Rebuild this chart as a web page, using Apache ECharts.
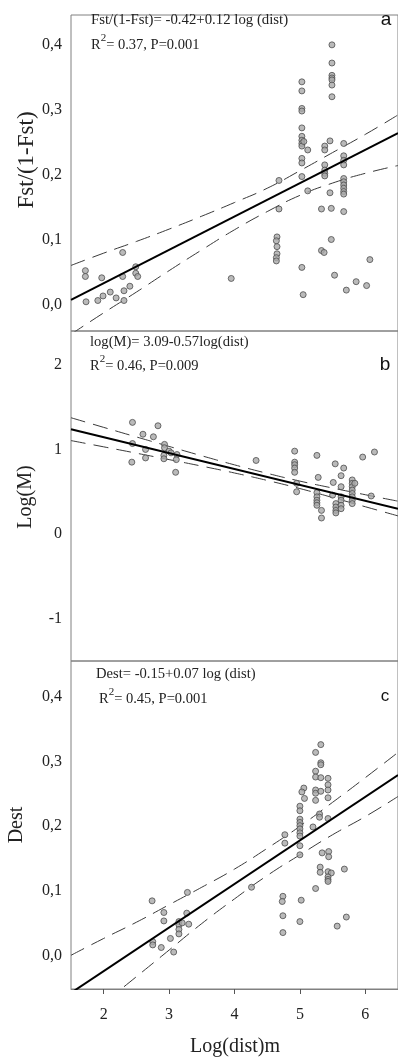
<!DOCTYPE html>
<html>
<head>
<meta charset="utf-8">
<script src="https://cdn.jsdelivr.net/npm/echarts@6/dist/echarts.min.js"></script>
<style>
html, body { margin: 0; padding: 0; background: #fff; }
#main { width: 398px; height: 1059px; }
</style>
</head>
<body>
<div id="main"></div>
<script>
// x ticks shared by all panels, labels only on the bottom one
var xTicks = [2, 3, 4, 5, 6];
var fracTicks = [0, 0.1, 0.2, 0.3, 0.4];
var logMTicks = [-1, 0, 1, 2];

// panel a : Fst/(1-Fst)
var aPoints = [
    [1.72, 0.052], [1.72, 0.043], [1.73, 0.004], [1.91, 0.006], [1.97, 0.041], [1.99, 0.013],
    [2.10, 0.019], [2.19, 0.010], [2.29, 0.080], [2.29, 0.043], [2.31, 0.021], [2.31, 0.006],
    [2.40, 0.028], [2.49, 0.058], [2.49, 0.048], [2.52, 0.043],
    [3.95, 0.040],
    [4.68, 0.191], [4.68, 0.147], [4.65, 0.104], [4.64, 0.098], [4.65, 0.089], [4.65, 0.078], [4.64, 0.072], [4.64, 0.067],
    [5.03, 0.343], [5.03, 0.329], [5.03, 0.302], [5.03, 0.298], [5.03, 0.272], [5.03, 0.259], [5.03, 0.253],
    [5.03, 0.248], [5.03, 0.244], [5.06, 0.251], [5.12, 0.238], [5.03, 0.225], [5.03, 0.218], [5.03, 0.197],
    [5.12, 0.175], [5.03, 0.057], [5.05, 0.015],
    [5.38, 0.244], [5.38, 0.238], [5.38, 0.215], [5.38, 0.207], [5.38, 0.202], [5.38, 0.198],
    [5.49, 0.400], [5.49, 0.372], [5.49, 0.353], [5.49, 0.349], [5.49, 0.346], [5.49, 0.338], [5.49, 0.320],
    [5.46, 0.252], [5.46, 0.172], [5.48, 0.148], [5.48, 0.100],
    [5.67, 0.248], [5.67, 0.229], [5.67, 0.222], [5.67, 0.215], [5.67, 0.194], [5.67, 0.189], [5.67, 0.184],
    [5.67, 0.179], [5.67, 0.174], [5.67, 0.170], [5.67, 0.143],
    [5.33, 0.147], [5.33, 0.083], [5.37, 0.080], [6.07, 0.069], [5.53, 0.045], [5.86, 0.035], [6.02, 0.029], [5.71, 0.022]
];
var aFit = [[1.5, 0.007], [6.5, 0.264]];
var bandX = [1.5, 2, 2.5, 3, 3.5, 4, 4.5, 5, 5.5, 6, 6.5];
var aUpper = [0.060, 0.079, 0.097, 0.116, 0.136, 0.157, 0.179, 0.206, 0.234, 0.262, 0.292];
var aLower = [-0.046, -0.013, 0.019, 0.052, 0.084, 0.115, 0.143, 0.168, 0.187, 0.202, 0.214];

// panel b : Log(M)
var bPoints = [
    [2.44, 1.32], [2.83, 1.28], [2.60, 1.18], [2.76, 1.15], [2.44, 1.07], [2.93, 1.06], [2.93, 1.02],
    [2.64, 1.00], [3.00, 0.98], [3.03, 0.96], [2.92, 0.93], [3.12, 0.94], [2.64, 0.90], [2.92, 0.89],
    [3.11, 0.88], [2.43, 0.85], [3.10, 0.73],
    [4.33, 0.87],
    [4.92, 0.98], [4.92, 0.85], [4.92, 0.82], [4.92, 0.78], [4.92, 0.73], [4.95, 0.60], [4.95, 0.50],
    [5.26, 0.93], [5.28, 0.67], [5.26, 0.49], [5.26, 0.44], [5.26, 0.40], [5.26, 0.37], [5.26, 0.34],
    [5.33, 0.28], [5.33, 0.19],
    [5.54, 0.83], [5.67, 0.78], [5.63, 0.69], [5.51, 0.61], [5.63, 0.56], [5.50, 0.46],
    [5.55, 0.36], [5.55, 0.32], [5.55, 0.28], [5.55, 0.25],
    [5.63, 0.44], [5.63, 0.40], [5.63, 0.34], [5.63, 0.30],
    [5.80, 0.64], [5.80, 0.60], [5.80, 0.56], [5.80, 0.52], [5.80, 0.48], [5.80, 0.44], [5.80, 0.40],
    [5.80, 0.36], [5.84, 0.60],
    [5.96, 0.91], [6.14, 0.97], [6.09, 0.45]
];
var bFit = [[1.5, 1.24], [6.5, 0.30]];
var bUpper = [1.375, 1.261, 1.148, 1.036, 0.925, 0.818, 0.718, 0.626, 0.544, 0.465, 0.389];
var bLower = [1.105, 1.031, 0.956, 0.880, 0.803, 0.722, 0.634, 0.538, 0.432, 0.323, 0.215];

// panel c : Dest
var cPoints = [
    [2.74, 0.085], [2.92, 0.067], [2.92, 0.054], [3.28, 0.098], [3.27, 0.066], [2.75, 0.022], [2.75, 0.017],
    [2.88, 0.013], [3.02, 0.027], [3.07, 0.006], [3.15, 0.053], [3.15, 0.048], [3.15, 0.041], [3.15, 0.034],
    [3.20, 0.051], [3.30, 0.049],
    [4.26, 0.106],
    [5.32, 0.326], [5.24, 0.314], [5.32, 0.298], [5.32, 0.295], [5.24, 0.285], [5.24, 0.276], [5.32, 0.275],
    [5.43, 0.274], [5.43, 0.264], [5.43, 0.256], [5.43, 0.244], [5.24, 0.256], [5.24, 0.251], [5.32, 0.254],
    [5.24, 0.240], [5.06, 0.259], [5.03, 0.253], [5.07, 0.243], [5.00, 0.231], [5.00, 0.224], [5.00, 0.211],
    [5.00, 0.206], [5.00, 0.201], [5.00, 0.196], [5.00, 0.190], [5.00, 0.185], [5.30, 0.219], [5.30, 0.214],
    [5.43, 0.212], [5.20, 0.199], [4.77, 0.187], [4.77, 0.174], [5.00, 0.170], [5.00, 0.156], [5.34, 0.159],
    [5.44, 0.161], [5.44, 0.153], [5.31, 0.137], [5.31, 0.129], [5.43, 0.130], [5.48, 0.128], [5.43, 0.122],
    [5.43, 0.118], [5.43, 0.115], [5.68, 0.134], [5.24, 0.104], [4.74, 0.092], [4.73, 0.084], [5.02, 0.086],
    [4.74, 0.062], [5.00, 0.053], [5.71, 0.060], [5.57, 0.046], [4.74, 0.036]
];
var cFit = [[1.5, -0.057], [6.5, 0.279]];
var cUpper = [0.001, 0.027, 0.052, 0.079, 0.106, 0.134, 0.166, 0.200, 0.237, 0.275, 0.314];
var cLower = [-0.115, -0.073, -0.032, 0.009, 0.050, 0.088, 0.124, 0.156, 0.187, 0.215, 0.246];

var serif = '"Liberation Serif", "DejaVu Serif", serif';
var frameColor = '#808080';

function pairs(xs, ys) {
    return xs.map(function (x, i) { return [x, ys[i]]; });
}

function commaLabel(v) {
    return v.toFixed(1).replace('.', ',');
}

var myChart = echarts.init(document.getElementById('main'));

var grids = [
    {left: 71, top: 15, width: 329, height: 316},
    {left: 71, top: 331, width: 329, height: 330},
    {left: 71, top: 661, width: 329, height: 328}
];
grids.forEach(function (g) {
    g.show = true;
    g.borderColor = frameColor;
    g.borderWidth = 1;
    g.backgroundColor = 'transparent';
});

function xAxisFor(i, showLabels) {
    return {
        type: 'value', gridIndex: i, min: 1.5, max: 6.5,
        splitLine: {show: false},
        axisLine: {show: showLabels, onZero: false, lineStyle: {color: frameColor}},
        axisTick: {show: showLabels, length: 5, lineStyle: {color: '#555'}, customValues: xTicks},
        axisLabel: {
            show: showLabels, margin: 18, customValues: xTicks,
            fontFamily: serif, fontSize: 16, color: '#222'
        }
    };
}

function yAxisFor(i, min, max, ticks, fmt) {
    return {
        type: 'value', gridIndex: i, min: min, max: max,
        splitLine: {show: false},
        axisLine: {show: false},
        axisTick: {show: false},
        axisLabel: {
            customValues: ticks, formatter: fmt, margin: 9,
            fontFamily: serif, fontSize: 16, color: '#222'
        }
    };
}

function scatter(i, data) {
    return {
        type: 'scatter', xAxisIndex: i, yAxisIndex: i, data: data,
        symbol: 'circle', symbolSize: 6,
        itemStyle: {color: '#a9a9a9', borderColor: '#4d4d4d', borderWidth: 1},
        z: 3
    };
}

function fitLine(i, data) {
    return {
        type: 'line', xAxisIndex: i, yAxisIndex: i, data: data,
        symbol: 'none', clip: true,
        lineStyle: {color: '#000', width: 2},
        z: 4
    };
}

function bandLine(i, ys) {
    return {
        type: 'line', xAxisIndex: i, yAxisIndex: i, data: pairs(bandX, ys),
        symbol: 'none', smooth: true, clip: true,
        lineStyle: {color: '#3a3a3a', width: 1, type: [15, 8]},
        z: 2
    };
}

function annot(x, y, text, size) {
    return {
        type: 'text', x: x, y: y,
        style: {text: text, font: size + 'px ' + serif, fill: '#222', textVerticalAlign: 'middle'}
    };
}

function r2(x, y, rest) {
    return {
        type: 'text', x: x, y: y,
        style: {
            text: '{r|R}{s|2}{t|' + rest + '}',
            textVerticalAlign: 'middle',
            rich: {
                r: {fontFamily: serif, fontSize: 14.5, fill: '#222', lineHeight: 20, verticalAlign: 'bottom'},
                s: {fontFamily: serif, fontSize: 11, fill: '#222', lineHeight: 20, verticalAlign: 'top'},
                t: {fontFamily: serif, fontSize: 14.5, fill: '#222', lineHeight: 20, verticalAlign: 'bottom'}
            }
        }
    };
}

function letter(x, y, text, size) {
    return {
        type: 'text', x: x, y: y,
        style: {
            text: text, font: size + 'px "Liberation Sans", Arial, sans-serif', fill: '#111',
            textAlign: 'center', textVerticalAlign: 'middle'
        }
    };
}

function yTitle(x, y, text, size) {
    return {
        type: 'text', x: x, y: y, rotation: Math.PI / 2,
        style: {
            text: text, font: size + 'px ' + serif, fill: '#222',
            textAlign: 'center', textVerticalAlign: 'middle'
        }
    };
}

var option = {
    animation: false,
    backgroundColor: '#fff',
    grid: grids,
    xAxis: [xAxisFor(0, false), xAxisFor(1, false), xAxisFor(2, true)],
    yAxis: [
        yAxisFor(0, -0.041, 0.446, fracTicks, commaLabel),
        yAxisFor(1, -1.5, 2.4, logMTicks, function (v) { return String(v); }),
        yAxisFor(2, -0.051, 0.455, fracTicks, commaLabel)
    ],
    series: [
        bandLine(0, aUpper), bandLine(0, aLower), fitLine(0, aFit), scatter(0, aPoints),
        bandLine(1, bUpper), bandLine(1, bLower), fitLine(1, bFit), scatter(1, bPoints),
        bandLine(2, cUpper), bandLine(2, cLower), fitLine(2, cFit), scatter(2, cPoints)
    ],
    graphic: [
        annot(91, 20, 'Fst/(1-Fst)= -0.42+0.12 log (dist)', 14.8),
        r2(91, 43, '= 0.37, P=0.001'),
        letter(386, 20, 'a', 19),
        annot(90, 342, 'log(M)= 3.09-0.57log(dist)', 14.6),
        r2(90, 364, '= 0.46, P=0.009'),
        letter(385, 365, 'b', 19),
        annot(96, 674, 'Dest= -0.15+0.07 log (dist)', 14.6),
        r2(99, 697, '= 0.45, P=0.001'),
        letter(385, 696, 'c', 17),
        yTitle(27, 160, 'Fst/(1-Fst)', 23),
        yTitle(26, 497, 'Log(M)', 20),
        yTitle(17, 825, 'Dest', 20),
        {
            type: 'text', x: 235, y: 1047,
            style: {
                text: 'Log(dist)m', font: '20px ' + serif, fill: '#222',
                textAlign: 'center', textVerticalAlign: 'middle'
            }
        }
    ]
};

myChart.setOption(option);
</script>
</body>
</html>
